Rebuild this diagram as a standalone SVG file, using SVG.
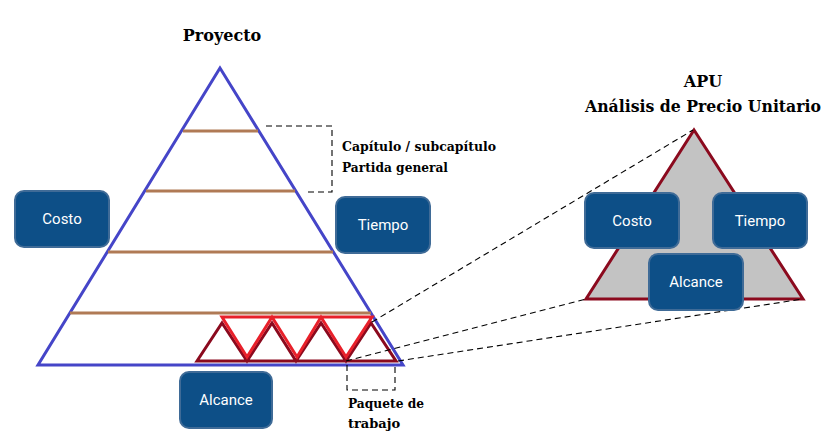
<svg xmlns="http://www.w3.org/2000/svg" width="840" height="442" viewBox="0 0 840 442">
<style>
.title{font-family:"DejaVu Serif","Liberation Serif",serif;font-weight:bold;fill:#000}
.box rect{fill:#0d4f87;stroke:#3f6b97;stroke-width:2}
.box text{font-family:Roboto,"Liberation Sans",sans-serif;font-size:15px;fill:#fff;text-anchor:middle}
.dash{fill:none;stroke:#000;stroke-width:1.1;stroke-dasharray:6,4}
.brown{stroke:#b07a55;stroke-width:3}
</style>
<rect width="840" height="442" fill="#fff"/>
<g id="pyramid">
<polygon points="220,68 38,365 403,365" fill="#fff" stroke="#4545c8" stroke-width="3"/>
<line class="brown" x1="183" y1="131" x2="258" y2="131"/>
<line class="brown" x1="146" y1="191" x2="295" y2="191"/>
<line class="brown" x1="108" y1="252" x2="333" y2="252"/>
<line class="brown" x1="70" y1="313" x2="371" y2="313"/>
</g>
<g id="work-packages">
<polygon points="197,361 222,323 247,361 272,323 296,361 321,323 346,361 371,323 396,361" fill="none" stroke="#8b0a1e" stroke-width="3" stroke-linejoin="miter"/>
<polygon points="222,317 372,317 346,357 321,317 297,357 272,317 247,357" fill="none" stroke="#e8202a" stroke-width="3"/>
</g>
<g id="apu-triangle">
<polygon points="694,130 586,299 803,299" fill="#c3c3c3" stroke="#8b0a1e" stroke-width="3"/>
</g>
<g id="connectors">
<polyline class="dash" points="266,126 332,126 332,192 308,192"/>
<polyline class="dash" points="347,365 347,390 395,390 395,365"/>
<line class="dash" x1="372" y1="322" x2="693" y2="130"/>
<line class="dash" x1="346" y1="361" x2="586" y2="299"/>
<line class="dash" x1="398" y1="361" x2="803" y2="299"/>
</g>
<g id="costo-left" class="box"><rect x="15" y="191" width="94" height="56" rx="9"/><text x="62" y="224">Costo</text></g>
<g id="tiempo-left" class="box"><rect x="336" y="197" width="94" height="56" rx="9"/><text x="383" y="230">Tiempo</text></g>
<g id="alcance-left" class="box"><rect x="180" y="372" width="92" height="56" rx="9"/><text x="226" y="405">Alcance</text></g>
<g id="costo-right" class="box"><rect x="585" y="193" width="94" height="55" rx="9"/><text x="632" y="226">Costo</text></g>
<g id="tiempo-right" class="box"><rect x="713" y="193" width="94" height="55" rx="9"/><text x="760" y="226">Tiempo</text></g>
<g id="alcance-right" class="box"><rect x="649" y="254" width="94" height="56" rx="9"/><text x="696" y="287">Alcance</text></g>
<g id="labels">
<text class="title" x="222" y="41" font-size="16" text-anchor="middle">Proyecto</text>
<text class="title" x="703" y="87" font-size="16" text-anchor="middle">APU</text>
<text class="title" x="585" y="112" font-size="16" textLength="236" lengthAdjust="spacingAndGlyphs">Análisis de Precio Unitario</text>
<text class="title" x="342" y="151" font-size="13" textLength="154" lengthAdjust="spacingAndGlyphs">Capítulo / subcapítulo</text>
<text class="title" x="342" y="172" font-size="13" textLength="106" lengthAdjust="spacingAndGlyphs">Partida general</text>
<text class="title" x="348" y="408" font-size="13" textLength="76" lengthAdjust="spacingAndGlyphs">Paquete de</text>
<text class="title" x="348" y="428" font-size="13">trabajo</text>
</g>
</svg>
